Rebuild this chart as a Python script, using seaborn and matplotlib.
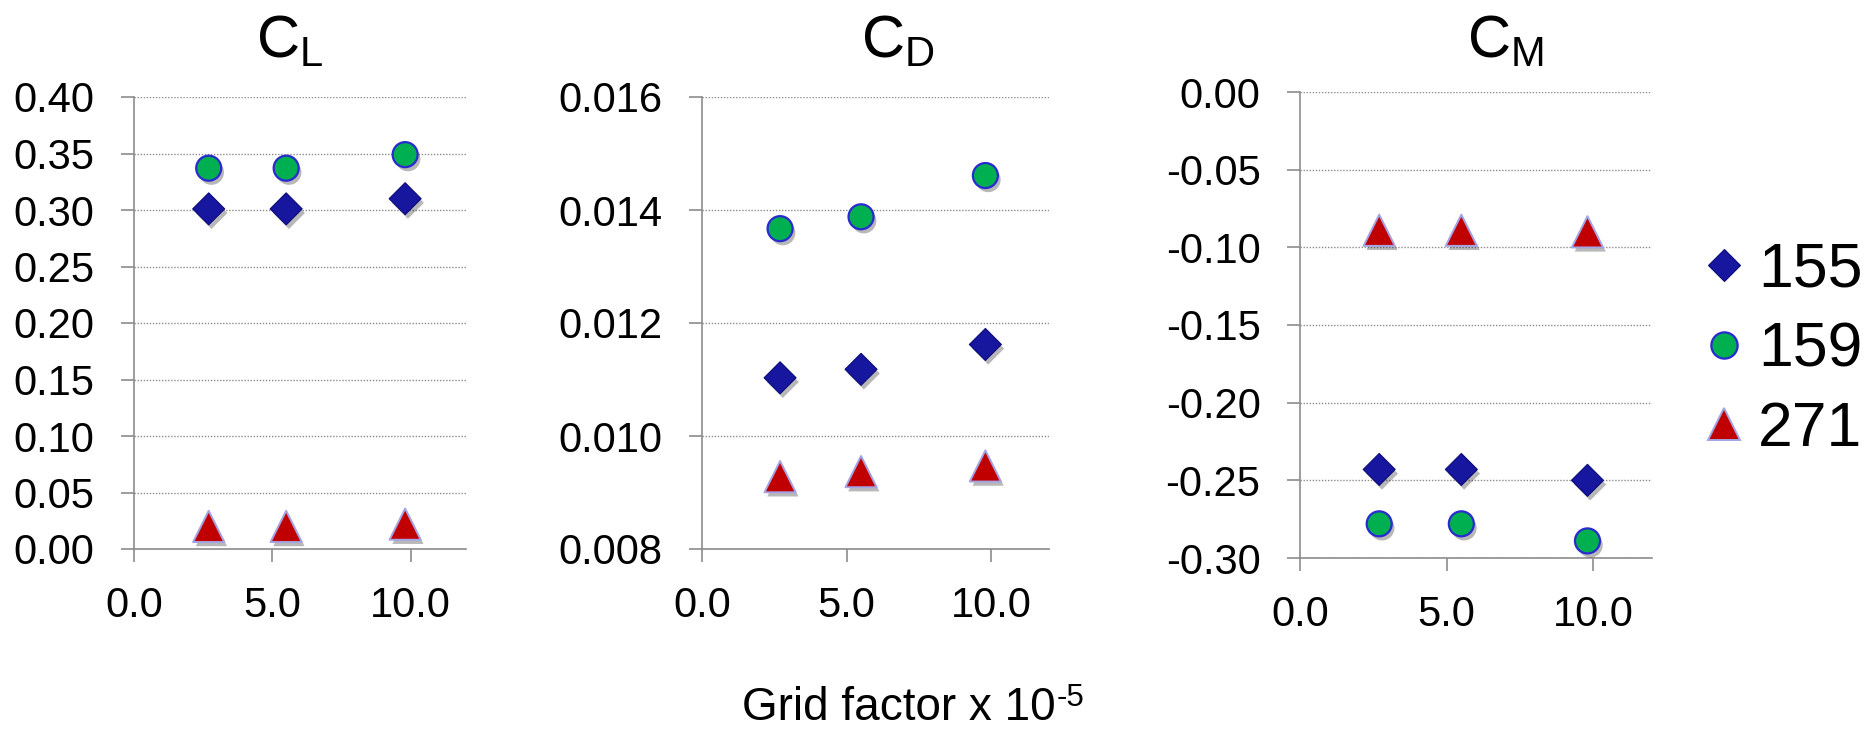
import numpy as np
import pandas as pd
import matplotlib
matplotlib.use("Agg")
import matplotlib.pyplot as plt
import matplotlib.patheffects as pe
from matplotlib.lines import Line2D
import seaborn as sns

# ---------------- data ----------------
grid_factor = [2.7, 5.5, 9.8]
series = ["155", "159", "271"]

cl_155 = [0.301, 0.301, 0.310]
cl_159 = [0.337, 0.337, 0.349]
cl_271 = [0.020, 0.020, 0.022]

cd_155 = [0.01103, 0.01118, 0.01162]
cd_159 = [0.01367, 0.01388, 0.01461]
cd_271 = [0.00928, 0.00937, 0.00947]

cm_155 = [-0.243, -0.243, -0.250]
cm_159 = [-0.278, -0.278, -0.289]
cm_271 = [-0.089, -0.089, -0.090]

x_ticks = [0, 5, 10]
x_tick_labels = ["0.0", "5.0", "10.0"]
cl_ticks = [0.0, 0.05, 0.10, 0.15, 0.20, 0.25, 0.30, 0.35, 0.40]
cl_tick_labels = ["0.00", "0.05", "0.10", "0.15", "0.20", "0.25", "0.30", "0.35", "0.40"]
cd_ticks = [0.008, 0.010, 0.012, 0.014, 0.016]
cd_tick_labels = ["0.008", "0.010", "0.012", "0.014", "0.016"]
cm_ticks = [0.0, -0.05, -0.10, -0.15, -0.20, -0.25, -0.30]
cm_tick_labels = ["0.00", "-0.05", "-0.10", "-0.15", "-0.20", "-0.25", "-0.30"]

titles = [r"$\mathregular{C_L}$", r"$\mathregular{C_D}$", r"$\mathregular{C_M}$"]
x_label_main = "Grid factor x 10"
x_label_sup = "-5"

# ---------------- long table ----------------
rows = []
for coef, vals in (("CL", [cl_155, cl_159, cl_271]),
                   ("CD", [cd_155, cd_159, cd_271]),
                   ("CM", [cm_155, cm_159, cm_271])):
    for s, v in zip(series, vals):
        for g, y in zip(grid_factor, v):
            rows.append({"coef": coef, "series": s, "grid": g, "value": y})
df = pd.DataFrame(rows)

# ---------------- style ----------------
sns.set_theme(style="white")
plt.rcParams["font.family"] = ["Liberation Sans", "DejaVu Sans"]
plt.rcParams["mathtext.fontset"] = "custom"
plt.rcParams["mathtext.rm"] = "Liberation Sans"
plt.rcParams["mathtext.it"] = "Liberation Sans:italic"
plt.rcParams["mathtext.bf"] = "Liberation Sans:bold"
plt.rcParams["text.color"] = "black"

W, H = 1871, 730
fig = plt.figure(figsize=(W / 100, H / 100), dpi=100)
fig.patch.set_facecolor("white")

styles = {
    "155": dict(marker="D", ms=16.3, fc="#16169e", ec="#0c0c7a", lw=0.8),
    "159": dict(marker="o", ms=18.0, fc="#00b050", ec="#2a2ad0", lw=1.6),
    "271": dict(marker="^", ms=22.5, fc="#c00000", ec="#a4a4e4", lw=1.4),
}

# axes boxes in pixels: (left, top, right, bottom)
boxes = [(134, 97, 466, 549), (702, 97, 1049, 549), (1300, 92, 1652, 558)]
title_x = [290, 898, 1505]
title_base = 58

coef_info = [
    ("CL", (0.0, 0.40), cl_ticks, cl_tick_labels),
    ("CD", (0.008, 0.016), cd_ticks, cd_tick_labels),
    ("CM", (-0.30, 0.0), cm_ticks, cm_tick_labels),
]

gray = "#8c8c8c"
axes = []
for i, (coef, ylim, yt, ytl) in enumerate(coef_info):
    l, t, r, b = boxes[i]
    ax = fig.add_axes([l / W, 1 - b / H, (r - l) / W, (b - t) / H])
    axes.append(ax)
    sub = df[df["coef"] == coef]
    for s in series:
        st = styles[s]
        sns.scatterplot(data=sub[sub["series"] == s], x="grid", y="value",
                        marker=st["marker"], s=st["ms"] ** 2, color=st["fc"],
                        edgecolor=st["ec"], linewidth=st["lw"], ax=ax,
                        legend=False, zorder=3)
    for coll in ax.collections:
        coll.set_path_effects([pe.SimplePatchShadow(offset=(2, -3), shadow_rgbFace="#000000", alpha=0.28),
                               pe.Normal()])
        coll.set_clip_on(False)
    ax.set_xlim(0, 12)
    ax.set_ylim(*ylim)
    ax.set_xticks(x_ticks, labels=x_tick_labels)
    ax.set_yticks(yt, labels=ytl)
    ax.set_xlabel("")
    ax.set_ylabel("")
    for sp in ("top", "right"):
        ax.spines[sp].set_visible(False)
    for sp in ("left", "bottom"):
        ax.spines[sp].set_color(gray)
        ax.spines[sp].set_linewidth(1.2)
    ax.yaxis.grid(True, linestyle=(0, (1, 1.2)), color=gray, linewidth=1.0)
    ax.xaxis.grid(False)
    ax.set_axisbelow(True)
    ax.tick_params(axis="both", direction="out", length=9.4, width=1.2,
                   color=gray, labelsize=30, labelcolor="black")
    ax.tick_params(axis="y", pad=19, left=True)
    ax.tick_params(axis="x", pad=17, bottom=True)
    ax.set_facecolor("white")
    ax.set_title(titles[i], fontsize=43, color="black", x=(title_x[i] - l) / (r - l),
                 y=1 + (t - title_base) / (b - t), pad=0, va="baseline")

handles = [Line2D([], [], linestyle="none", marker=styles[s]["marker"],
                  markersize=styles[s]["ms"] * (1.0 if s != "159" else 1.05),
                  markerfacecolor=styles[s]["fc"], markeredgecolor=styles[s]["ec"],
                  markeredgewidth=styles[s]["lw"]) for s in series]
fig.legend(handles, series, loc="center left",
           bbox_to_anchor=(1708 / W, 1 - 350 / H), frameon=False, fontsize=45,
           handlelength=0.5, handletextpad=0.3, labelspacing=0.33,
           borderpad=0, borderaxespad=0)

# x label with a plain-hyphen superscript
base_y = 720
t_main = fig.text(742 / W, 1 - base_y / H, x_label_main, ha="left", va="baseline",
                  fontsize=33, color="black")
fig.canvas.draw()
bb = t_main.get_window_extent(renderer=fig.canvas.get_renderer())
fig.text((bb.x1 + 1) / W, 1 - (base_y - 14) / H, x_label_sup, ha="left",
         va="baseline", fontsize=22.5, color="black")

fig.savefig("out.png", dpi=100, facecolor="white")
